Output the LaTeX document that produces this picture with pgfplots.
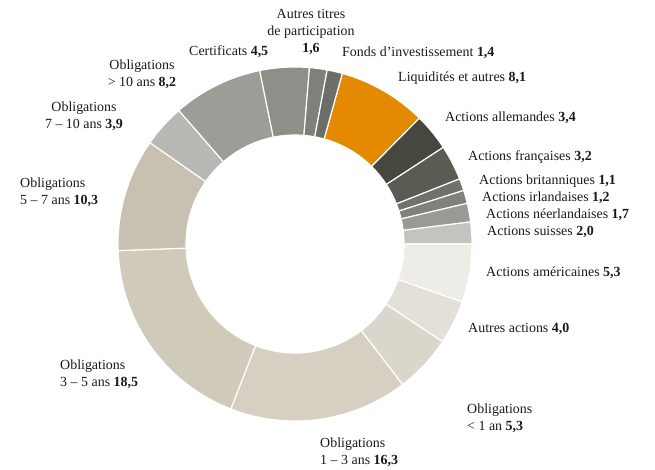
\documentclass[border=0pt]{standalone}
\usepackage{pgfplots}
\pgfplotsset{compat=1.18}
\usepackage{fontspec}
\setmainfont{Liberation Serif}
\usetikzlibrary{calc}
\definecolor{c1}{HTML}{E38A00}
\definecolor{c2}{HTML}{45483F}
\definecolor{c3}{HTML}{5A5C54}
\definecolor{c4}{HTML}{6F716A}
\definecolor{c5}{HTML}{80827B}
\definecolor{c6}{HTML}{999A94}
\definecolor{c7}{HTML}{C3C4BF}
\definecolor{c8}{HTML}{EEECE7}
\definecolor{c9}{HTML}{E3E0D8}
\definecolor{c10}{HTML}{DAD6CB}
\definecolor{c11}{HTML}{D5D0C2}
\definecolor{c12}{HTML}{D0CABB}
\definecolor{c13}{HTML}{C8C1B1}
\definecolor{c14}{HTML}{B8B9B4}
\definecolor{c15}{HTML}{9C9D97}
\definecolor{c16}{HTML}{8E8F89}
\definecolor{c17}{HTML}{7E807A}
\definecolor{c18}{HTML}{6C6F69}
\begin{document}
\begin{tikzpicture}
\begin{axis}[x=0.03cm, y=0.03cm, xmin=0, xmax=655, ymin=0, ymax=469,
  hide axis, clip=false, scale only axis]
\path (axis cs:0,0) rectangle (axis cs:655,469);
\pgfplotsextra{
  \xdef\cum{0}
  \foreach \v/\c in {8.1/c1, 3.4/c2, 3.2/c3, 1.1/c4, 1.2/c5, 1.7/c6, 2.0/c7,
      5.3/c8, 4.0/c9, 5.3/c10, 16.3/c11, 18.5/c12, 10.3/c13, 3.9/c14,
      8.2/c15, 4.5/c16, 1.6/c17, 1.4/c18} {
    \pgfmathsetmacro\a{74.5 - \cum*3.6}
    \pgfmathsetmacro\b{\a - \v*3.6}
    \fill[\c, draw=white, line width=1pt]
      ($(axis cs:295,225)+(\a:5.31cm)$) arc[start angle=\a, end angle=\b, radius=5.31cm]
      -- ($(axis cs:295,225)+(\b:3.27cm)$) arc[start angle=\b, end angle=\a, radius=3.27cm]
      -- cycle;
    \pgfmathsetmacro\nc{\cum+\v}
    \xdef\cum{\nc}
  }
}
\tikzset{lab/.style={font=\fontsize{11.9}{14.5}\selectfont, inner sep=0pt, text=black!90}}
% top
\node[lab, align=center, anchor=center] at (axis cs:311,469-32) {Autres titres\\de participation\\\textbf{1,6}};
\node[lab, anchor=west] at (axis cs:189,469-52) {Certificats \textbf{4,5}};
\node[lab, anchor=west] at (axis cs:342,469-53) {Fonds d’investissement \textbf{1,4}};
\node[lab, anchor=west] at (axis cs:398,469-78) {Liquidités et autres \textbf{8,1}};
\node[lab, anchor=west] at (axis cs:445,469-118) {Actions allemandes \textbf{3,4}};
\node[lab, anchor=west] at (axis cs:468,469-157) {Actions françaises \textbf{3,2}};
\node[lab, anchor=west] at (axis cs:479,469-181) {Actions britanniques \textbf{1,1}};
\node[lab, anchor=west] at (axis cs:482,469-198) {Actions irlandaises \textbf{1,2}};
\node[lab, anchor=west] at (axis cs:486,469-215) {Actions néerlandaises \textbf{1,7}};
\node[lab, anchor=west] at (axis cs:487,469-232) {Actions suisses \textbf{2,0}};
\node[lab, anchor=west] at (axis cs:486,469-273) {Actions américaines \textbf{5,3}};
\node[lab, anchor=west] at (axis cs:468,469-329) {Autres actions \textbf{4,0}};
\node[lab, anchor=west, align=left] at (axis cs:467,469-418) {Obligations\\< 1 an \textbf{5,3}};
\node[lab, anchor=west, align=left] at (axis cs:320,469-452) {Obligations\\1 – 3 ans \textbf{16,3}};
\node[lab, anchor=west, align=left] at (axis cs:60,469-374) {Obligations\\3 – 5 ans \textbf{18,5}};
\node[lab, anchor=west, align=left] at (axis cs:20,469-192) {Obligations\\5 – 7 ans \textbf{10,3}};
\node[lab, anchor=center, align=center] at (axis cs:84,469-116) {Obligations\\7 – 10 ans \textbf{3,9}};
\node[lab, anchor=center, align=center] at (axis cs:142,469-74) {Obligations\\> 10 ans \textbf{8,2}};
\end{axis}
\end{tikzpicture}
\end{document}
